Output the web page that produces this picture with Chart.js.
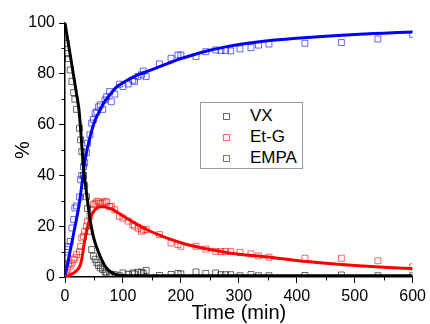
<!DOCTYPE html>
<html>
<head>
<meta charset="utf-8">
<script src="https://cdn.jsdelivr.net/npm/chart.js@4"></script>
<style>
  html, body { margin: 0; padding: 0; background: #fff; }
  #wrap { position: relative; width: 430px; height: 324px; }
  #legend {
    position: absolute; left: 200px; top: 102px; width: 101px; height: 65px;
    border: 1px solid #999; background: #fff;
    font-family: Arial, "Liberation Sans", sans-serif; font-size: 17px; color: #000;
  }
  .item { position: absolute; left: 0; height: 20px; line-height: 20px; }
  .mark { position: absolute; left: 22px; top: 7px; width: 5px; height: 5px; border: 1px solid; }
  .lbl { position: absolute; left: 49px; top: 0; white-space: nowrap; }
</style>
</head>
<body>
<div id="wrap">
  <canvas id="grafico" width="430" height="324"></canvas>
  <div id="legend"></div>
</div>
<script>
// measured samples (min, %)
const sampleTime = [2, 4, 6, 9, 12, 15, 17, 20, 25, 27, 29, 32, 34, 37, 39, 43, 46, 49, 52, 55,
  58, 61, 65, 69, 72, 77, 80, 86, 94, 100, 109, 117, 120, 126, 132, 135, 140, 163, 183, 195,
  200, 226, 243, 260, 269, 277, 286, 302, 321, 334, 352, 414, 477, 540, 600];
const vxData = [92, 88, 86, 81.5, 77, 72.6, 70, 66, 58.6, 54, 49.4, 40, 36, 31.6, 27, 18, 10.8, 8.2, 7, 5.6,
  4.5, 3.6, 3, 2, 1.5, 1.2, 1, 0.9, 0.5, 1.6, 1, 1.6, 1.2, 1.9, 1.9, 1.5, 2.6, 0.6, 1, 1.4,
  1.2, 2, 1.4, 1.6, 0.9, 0.9, 0.9, 0.5, 1, 0.5, 0.5, 0.6, 0.8, 0.5, 0.5];
const etgData = [1.6, 3, 4.9, 4.2, 5.5, 6.9, 7.5, 8.8, 10, 12, 15.4, 16, 18, 20, 22, 23.9, 26.5, 28.5, 29, 29.8,
  29.6, 29, 29.2, 29.8, 29.5, 27.8, 27.8, 26.5, 23.9, 23.2, 22, 20.6, 20, 19.2, 18, 18.5, 18.7, 16.7, 13.4, 12.8,
  12.1, 12.1, 11, 10.1, 10, 10, 10, 9.7, 9.1, 8.3, 7.8, 7.4, 7.4, 6.4, 4];
const empaData = [7.5, 10.8, 12, 14, 19.3, 22.6, 27.2, 28, 31.5, 38.3, 40, 43.5, 45, 49, 52.7, 56, 60.6, 62, 64.5, 65,
  67, 67.8, 66, 69.7, 71, 73, 69, 72, 75.9, 75, 76, 77.5, 77, 79, 79.6, 81.1, 78.9, 83.9, 86.1, 87.4,
  87.4, 86.8, 88.7, 89.4, 89.2, 89.2, 89, 89.8, 90.3, 91.3, 91.7, 92, 92.3, 93.7, 95.5];

// fitted curves
const fitTime = [0, 5, 10, 15, 20, 24, 26, 28, 30, 32, 35, 38, 42, 46, 50, 55, 60, 65, 70, 80,
  90, 100, 120, 140, 160, 180, 200, 225, 250, 275, 300, 350, 400, 450, 500, 550, 600];
const vxFit = [100, 93, 86, 79, 72, 66, 61, 55, 48.5, 43, 37, 31.5, 24.5, 19, 15, 11.5, 8.5, 6, 4, 1.8,
  0.8, 0.6, 0.5, 0.5, 0.5, 0.5, 0.5, 0.5, 0.5, 0.5, 0.5, 0.5, 0.5, 0.5, 0.5, 0.5, 0.5];
const etgFit = [0, 0.5, 1, 1.6, 2.5, 3.6, 4.5, 6, 8.5, 11.5, 15.5, 19, 22.3, 24.6, 26, 27.1, 27.6, 27.7, 27.5, 26.8,
  25.5, 24, 21.3, 18.8, 16.8, 15, 13.5, 12, 10.8, 9.8, 9, 7.9, 6.5, 5.4, 4.5, 3.8, 3.3];
const empaFit = [0, 5.8, 11.5, 17.3, 23, 28, 31, 34.5, 38, 42, 46.5, 50, 54, 57.5, 60.5, 63.3, 65.5, 67.7, 69.5, 72.5,
  75, 76.5, 79, 80.8, 82.5, 84.3, 86, 87.7, 89.3, 90.5, 91.5, 93, 94, 94.8, 95.5, 96, 96.5];

const seriesNames = ["VX", "Et-G", "EMPA"];
const xTicksMinor = [50, 150, 250, 350, 450, 550];
const yTicksMinor = [10, 30, 50, 70, 90];

const fuente = 'Arial, "Liberation Sans", sans-serif';
const coloresLinea = ["#000000", "#ff0000", "#0000ff"];
const coloresPunto = ["rgba(0,0,0,0.6)", "rgba(255,0,0,0.6)", "rgba(0,0,255,0.6)"];
const coloresLeyenda = ["#666666", "#ff6666", "#6666ff"];

function puntos(xs, ys) {
  return xs.map((x, i) => ({ x: x, y: ys[i] }));
}

const datos = [vxData, etgData, empaData];
const ajustes = [vxFit, etgFit, empaFit];

const datasets = [];
seriesNames.forEach((nombre, i) => {
  datasets.push({
    label: nombre,
    data: puntos(sampleTime, datos[i]),
    showLine: false,
    pointStyle: "rect",
    pointRadius: 4.2,
    pointBorderWidth: 1,
    pointBorderColor: coloresPunto[i],
    pointBackgroundColor: "rgba(0,0,0,0)",
    order: 2,
  });
});
seriesNames.forEach((nombre, i) => {
  datasets.push({
    label: nombre + " fit",
    data: puntos(fitTime, ajustes[i]),
    showLine: true,
    borderColor: coloresLinea[i],
    borderWidth: 3,
    pointRadius: 0,
    cubicInterpolationMode: "monotone",
    order: 1,
  });
});

// short minor ticks between the labelled ones
const minorTicks = {
  id: "minorTicks",
  afterDraw(chart) {
    const { ctx, chartArea, scales } = chart;
    ctx.save();
    ctx.strokeStyle = "#000";
    ctx.lineWidth = 1;
    ctx.beginPath();
    yTicksMinor.forEach(v => {
      const y = Math.round(scales.y.getPixelForValue(v)) + 0.5;
      ctx.moveTo(chartArea.left - 3.5, y);
      ctx.lineTo(chartArea.left, y);
    });
    xTicksMinor.forEach(v => {
      const x = Math.round(scales.x.getPixelForValue(v)) + 0.5;
      ctx.moveTo(x, chartArea.bottom);
      ctx.lineTo(x, chartArea.bottom + 3.5);
    });
    ctx.stroke();
    ctx.restore();
  }
};

const ctx = document.getElementById("grafico").getContext("2d");
new Chart(ctx, {
  type: "scatter",
  data: { datasets },
  plugins: [minorTicks],
  options: {
    responsive: false,
    animation: false,
    layout: { padding: { top: 23, right: 16, left: 0, bottom: 0 } },
    plugins: { legend: { display: false }, tooltip: { enabled: false } },
    scales: {
      x: {
        type: "linear", min: 0, max: 600,
        afterFit: s => { s.height = 47; },
        ticks: { stepSize: 100, color: "#000", padding: 4, font: { family: fuente, size: 16 } },
        grid: { drawOnChartArea: false, drawTicks: true, tickLength: 6, color: "#000", tickWidth: 1 },
        border: { color: "#000", width: 1.5 },
        title: { display: true, text: "Time (min)", color: "#000", padding: { top: 0, bottom: 1 },
                 font: { family: fuente, size: 20, lineHeight: 1 } },
      },
      y: {
        type: "linear", min: 0, max: 100,
        afterFit: s => { s.width = 65; },
        ticks: { stepSize: 20, color: "#000", padding: 4, font: { family: fuente, size: 16 } },
        grid: { drawOnChartArea: false, drawTicks: true, tickLength: 6, color: "#000", tickWidth: 1 },
        border: { color: "#000", width: 1.5 },
        title: { display: true, text: "%", color: "#000", padding: { top: 13, bottom: 0 },
                 font: { family: fuente, size: 20, lineHeight: 1 } },
      },
    },
  },
});

// legend
const leyenda = document.getElementById("legend");
seriesNames.forEach((nombre, i) => {
  const fila = document.createElement("div");
  fila.className = "item";
  fila.style.top = (3 + i * 21) + "px";
  const marca = document.createElement("span");
  marca.className = "mark";
  marca.style.borderColor = coloresLeyenda[i];
  const texto = document.createElement("span");
  texto.className = "lbl";
  texto.textContent = nombre;
  fila.appendChild(marca);
  fila.appendChild(texto);
  leyenda.appendChild(fila);
});
</script>
</body>
</html>
